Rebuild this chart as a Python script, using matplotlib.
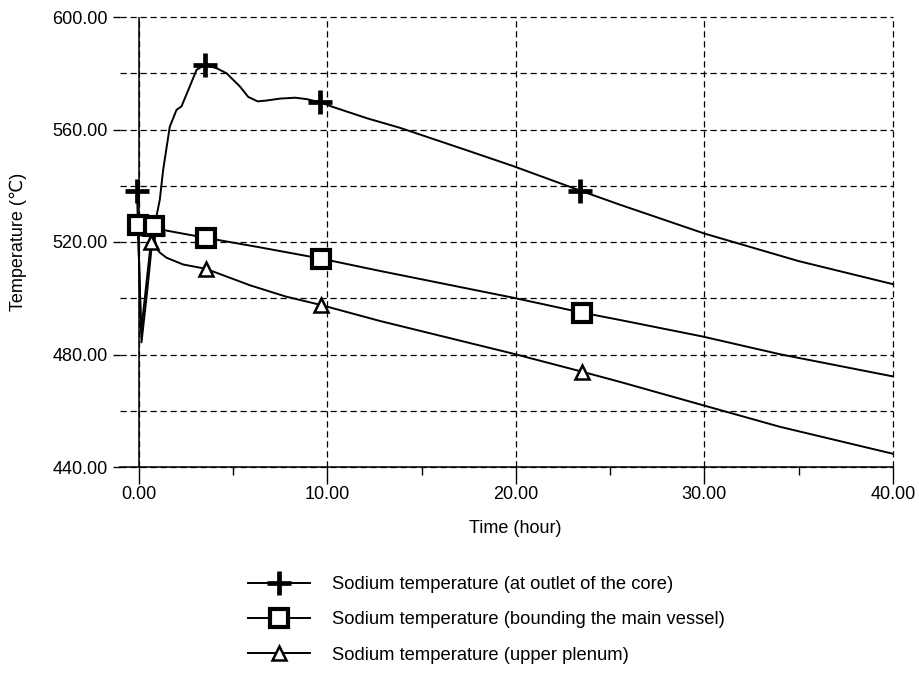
import matplotlib
matplotlib.use("Agg")
import matplotlib.pyplot as plt

# --- data ------------------------------------------------------------------
t_core = [-0.1, 0.14, 0.45, 0.75, 1.11, 1.29, 1.64, 2.0, 2.26, 2.7, 3.06, 3.5,
          4.12, 4.65, 5.36, 5.8, 6.3, 6.77, 7.5, 8.3, 8.9, 9.6, 10.3, 12.1,
          13.85, 17.4, 19.85, 23.4, 25.5, 30.0, 35.0, 40.0]
T_core = [538.0, 484.3, 503.0, 523.0, 535.0, 545.7, 561.0, 567.0, 568.2, 575.3,
          581.2, 583.0, 581.8, 580.0, 575.3, 571.6, 570.0, 570.3, 571.0, 571.3,
          570.8, 569.7, 568.0, 564.0, 560.6, 552.6, 547.0, 538.3, 533.3, 523.0,
          513.2, 505.0]
core_marks = [0, 3, 11, 21, 27]

t_vessel = [-0.05, 0.8, 1.1, 3.54, 6.5, 9.66, 12.8, 19.85, 23.5, 25.5, 29.9,
            34.0, 40.0]
T_vessel = [526.2, 525.6, 524.5, 521.5, 518.0, 514.1, 509.7, 500.2, 494.9,
            492.3, 486.4, 480.1, 472.2]
vessel_marks = [0, 1, 3, 5, 8]

t_plenum = [-0.05, 0.12, 0.64, 0.76, 1.1, 1.47, 2.35, 3.54, 5.9, 7.8, 9.66,
            12.8, 19.85, 23.5, 25.5, 29.9, 34.0, 40.0]
T_plenum = [526.0, 488.0, 520.1, 519.1, 516.3, 514.4, 512.0, 510.5, 504.6,
            500.6, 497.6, 491.9, 480.3, 473.9, 470.3, 462.0, 454.3, 444.7]
plenum_marks = [2, 7, 10, 13]

labels = ["Sodium temperature (at outlet of the core)",
          "Sodium temperature (bounding the main vessel)",
          "Sodium temperature (upper plenum)"]

x_major = [0, 10, 20, 30, 40]
x_minor = [5, 15, 25, 35]
y_major = [440, 480, 520, 560, 600]
y_minor = [460, 500, 540, 580]

plt.rcParams['font.family'] = ['Liberation Sans', 'DejaVu Sans']

fig = plt.figure(figsize=(9.2, 6.75), dpi=100)
ax = fig.add_axes([120 / 920, 1 - 467 / 675, 773 / 920, 450 / 675])
ax.set_xlim(-1, 40)
ax.set_ylim(440, 600)

dash = (0, (5, 3))
ax.set_yticks(y_major)
ax.set_yticks(y_minor, minor=True)
ax.set_xticks(x_major)
ax.set_xticks(x_minor, minor=True)
ax.grid(axis='y', which='both', ls=dash, color='k', lw=0.9)
ax.grid(axis='x', which='major', ls=dash, color='k', lw=0.9)
for gl in ax.get_xgridlines() + ax.get_ygridlines():
    gl.set_clip_on(False)
ax.axvline(0, color='k', lw=1.1, zorder=2)

for s in ['top', 'right', 'left']:
    ax.spines[s].set_visible(False)
ax.spines['bottom'].set_linewidth(1.1)

ax.set_xticklabels([f"{v:.2f}" for v in x_major])
ax.set_yticklabels([f"{v:.2f}" for v in y_major])
ax.tick_params(axis='x', which='major', direction='out', length=12, width=1,
               labelsize=13, pad=2)
ax.tick_params(axis='x', which='minor', direction='out', length=6, width=1)
ax.tick_params(axis='y', which='major', direction='out', length=5, width=1,
               labelsize=13, pad=4)
ax.tick_params(axis='y', which='minor', length=0)

line_kw = dict(color='k', lw=1.4, zorder=3)
h1, = ax.plot(t_core, T_core, marker='+', ms=17, mew=3.4,
              markevery=core_marks, **line_kw)
h3, = ax.plot(t_plenum, T_plenum, marker='^', ms=10.5, mew=1.8, mfc='white',
              mec='k', markevery=plenum_marks, **line_kw)
h2, = ax.plot(t_vessel, T_vessel, marker='s', ms=12.5, mew=3.0, mfc='white',
              mec='k', markevery=vessel_marks, **line_kw)

ax.set_xlabel("Time (hour)", fontsize=13)
ax.xaxis.set_label_coords(0.511, -0.118)
ax.set_ylabel("Temperature (\u2103)", fontsize=13, va='center')
ax.yaxis.set_label_coords(-0.132, 0.5)

fig.legend([h1, h2, h3], labels, loc='upper left',
           bbox_to_anchor=(248 / 920, 1 - 576 / 675), frameon=False,
           fontsize=13.2, handlelength=3.4, handletextpad=1.2,
           labelspacing=1.0, borderaxespad=0, borderpad=0)

fig.savefig("out.png", dpi=100, facecolor='white')
